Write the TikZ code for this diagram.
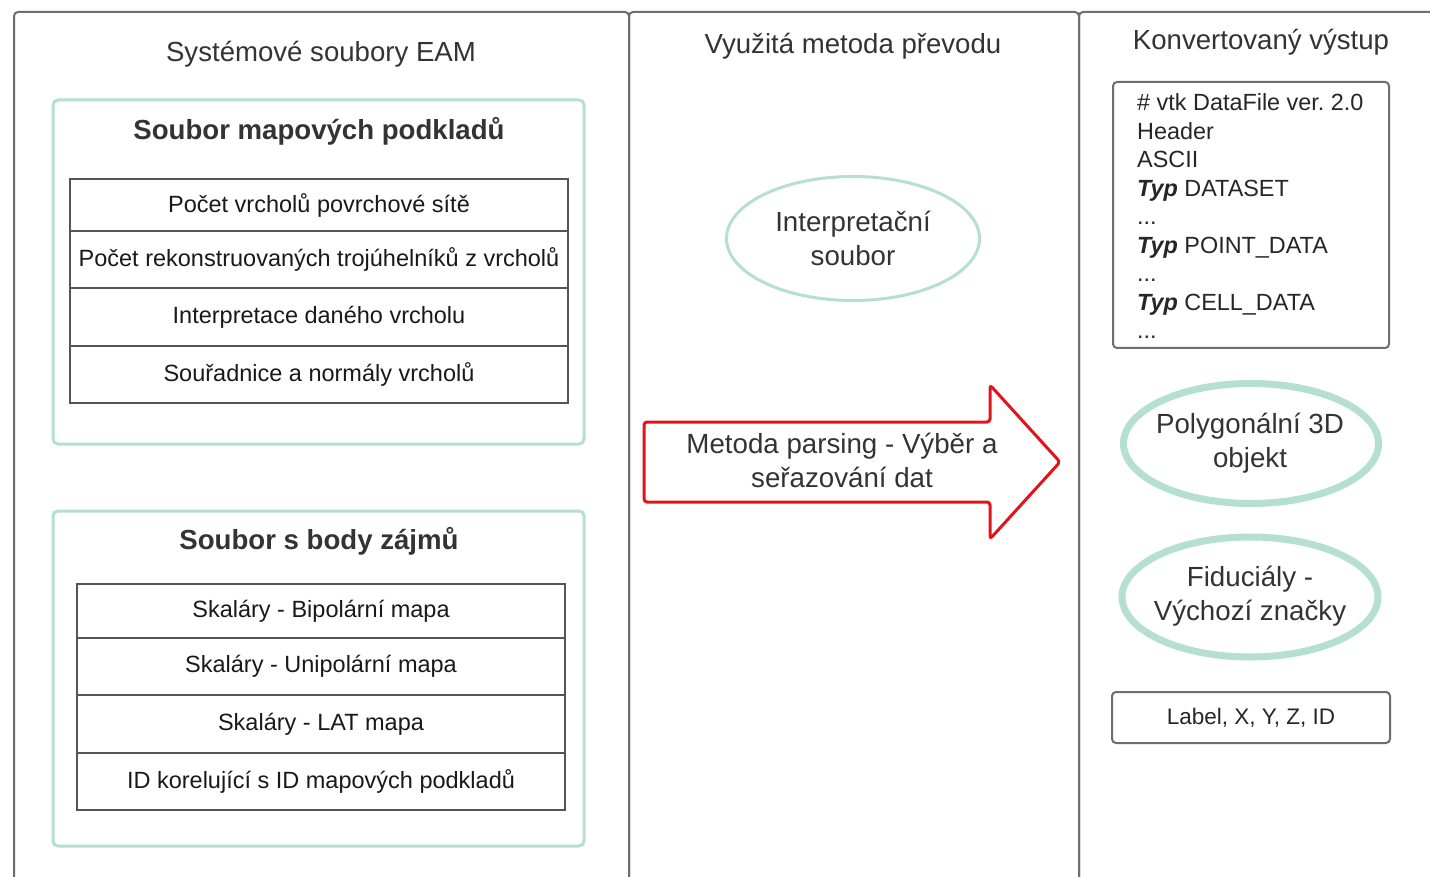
\documentclass[tikz,border=0pt]{standalone}
\usepackage{fontspec}
\setmainfont{Liberation Sans}
\usetikzlibrary{shapes.geometric}
\definecolor{panelgray}{HTML}{6E6E6E}
\definecolor{rowgray}{HTML}{555555}
\definecolor{mint}{HTML}{B5E0CE}
\definecolor{txt}{HTML}{333333}
\definecolor{arrowred}{HTML}{E1141C}
\tikzset{
  panel/.style={draw=panelgray, line width=2pt, rounded corners=4pt, inner sep=0pt, anchor=north west},
  group/.style={draw=mint, line width=3pt, rounded corners=5pt, inner sep=0pt},
  row/.style={draw=rowgray, line width=2.2pt, inner sep=0pt, font=\fontsize{23.5}{28}\selectfont, text=black!90},
  paneltitle/.style={font=\fontsize{27.6}{32}\selectfont, text=txt, inner sep=0pt},
  grouptitle/.style={font=\fontsize{27.6}{32}\bfseries\selectfont, text=txt, inner sep=0pt},
  oval/.style={ellipse, draw=mint, inner sep=0pt},
  ovaltext/.style={align=center, inner sep=0pt, font=\fontsize{27.7}{34}\selectfont, text=txt},
  outbox/.style={draw=panelgray, line width=2pt, rounded corners=4pt, inner sep=0pt},
  vtkline/.style={anchor=base west, inner sep=0pt, font=\fontsize{23.4}{28}\selectfont, text=black!85},
  bigarrow/.style={draw=arrowred, line width=3pt, rounded corners=3pt, line join=round},
  arrowtext/.style={align=center, font=\fontsize{27.7}{34}\selectfont, text=txt, inner sep=0pt}
}
\begin{document}
\frenchspacing
\begin{tikzpicture}[x=1pt,y=-1pt]
\useasboundingbox (0,0) rectangle (1430,877);
\fill[white] (0,0) rectangle (1430,877);

% panels (open at the bottom / right edge)
\node[panel, minimum width=615, minimum height=900] (pleft) at (13,11) {};
\node[panel, minimum width=450, minimum height=900] (pmid) at (628,11) {};
\node[panel, minimum width=400, minimum height=900] (pright) at (1078,11) {};

\node[paneltitle] (tleft) at (321,54) {Systémové soubory EAM};
\node[paneltitle] (tmid) at (853,46) {Využitá metoda převodu};
\node[paneltitle] (tright) at (1261,42) {Konvertovaný výstup};

% left: group 1
\node[group, minimum width=531, minimum height=344] (g1) at (318.5,272) {};
\node[grouptitle] (g1t) at (319,131) {Soubor mapových podkladů};
\node[row, minimum width=498, minimum height=52] (r11) at (319,205) {Počet vrcholů povrchové sítě};
\node[row, minimum width=498, minimum height=57] (r12) at (319,259.5) {Počet rekonstruovaných trojúhelníků z vrcholů};
\node[row, minimum width=498, minimum height=58] (r13) at (319,317) {Interpretace daného vrcholu};
\node[row, minimum width=498, minimum height=57] (r14) at (319,374.5) {Souřadnice a normály vrcholů};

% left: group 2
\node[group, minimum width=531, minimum height=335] (g2) at (318.5,678.5) {};
\node[grouptitle] (g2t) at (319,541) {Soubor s body zájmů};
\node[row, minimum width=488, minimum height=54] (r21) at (321,611) {Skaláry - Bipolární mapa};
\node[row, minimum width=488, minimum height=57] (r22) at (321,666.5) {Skaláry - Unipolární mapa};
\node[row, minimum width=488, minimum height=58] (r23) at (321,724) {Skaláry - LAT mapa};
\node[row, minimum width=488, minimum height=57] (r24) at (321,781.5) {ID korelující s ID mapových podkladů};

% middle
\node[oval, line width=3pt, minimum width=253, minimum height=124] (interp) at (853,238.5) {};
\node[ovaltext] (interpt) at (interp.center) {Interpretační\\soubor};
\coordinate (a1) at (644,422);
\coordinate (a2) at (990,422);
\coordinate (a3) at (990,385);
\coordinate (a4) at (1060,462);
\coordinate (a5) at (990,539);
\coordinate (a6) at (990,502);
\coordinate (a7) at (644,502);
\draw[bigarrow] (a1) -- (a2) -- (a3) -- (a4) -- (a5) -- (a6) -- (a7) -- cycle;
\node[arrowtext] (parse) at (842,460) {Metoda parsing - Výběr a\\seřazování dat};

% right
\node[outbox, minimum width=276, minimum height=266] (vtk) at (1251,215) {};
\node[vtkline] (v1) at (1137,111) {\# vtk DataFile ver. 2.0};
\node[vtkline] (v2) at (1137,139.5) {Header};
\node[vtkline] (v3) at (1137,168) {ASCII};
\node[vtkline] (v4) at (1137,196.5) {\textbf{\textit{Typ}} DATASET};
\node[vtkline] (v5) at (1137,225) {...};
\node[vtkline] (v6) at (1137,253.5) {\textbf{\textit{Typ}} POINT\_DATA};
\node[vtkline] (v7) at (1137,282) {...};
\node[vtkline] (v8) at (1137,310.5) {\textbf{\textit{Typ}} CELL\_DATA};
\node[vtkline] (v9) at (1137,339) {...};

\node[oval, line width=7pt, minimum width=255, minimum height=120] (poly) at (1251,443.5) {};
\node[ovaltext] (polyt) at (1250,443) {Polygonální 3D\\objekt};
\node[oval, line width=7pt, minimum width=256, minimum height=120] (fid) at (1250,597) {};
\node[ovaltext] (fidt) at (1250,596.5) {Fiduciály -\\Výchozí značky};

\node[outbox, minimum width=278, minimum height=51, font=\fontsize{22.5}{27}\selectfont, text=black!85] (lbl) at (1251,717.5) {Label, X, Y, Z, ID};
\end{tikzpicture}
\end{document}
